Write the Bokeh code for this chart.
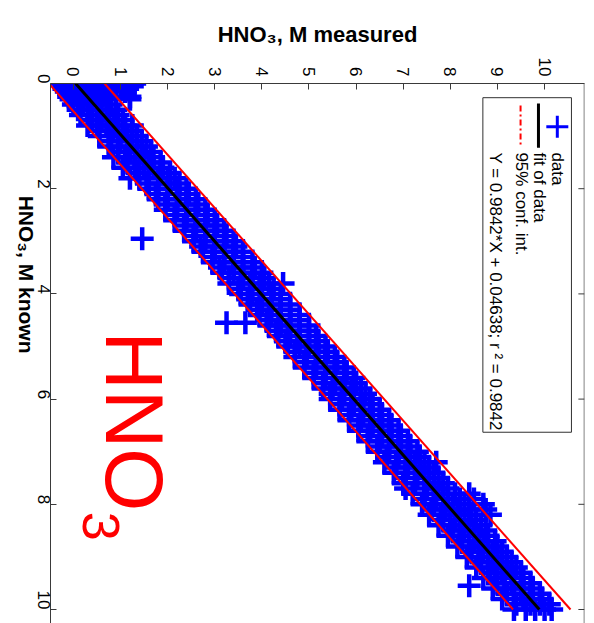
import math
from bokeh.plotting import figure
from bokeh.models import Range1d, FixedTicker, Span
from bokeh.embed import file_html
from bokeh.resources import INLINE
from bokeh.core.properties import value

FONT = "Liberation Sans"

# ---- data ----
known_levels = [0.0, 0.05, 0.1, 0.15, 0.2, 0.25, 0.3, 0.4, 0.5, 0.6, 0.7, 0.8, 0.9,
                1.0, 1.1, 1.2, 1.3, 1.4, 1.5, 1.6, 1.7, 1.8, 1.9,
                2.0, 2.1, 2.2, 2.3, 2.4, 2.5, 2.6, 2.7, 2.8, 2.9, 2.95,
                3.0, 3.1, 3.2, 3.3, 3.4, 3.5, 3.6, 3.7, 3.8, 3.9,
                4.0, 4.1, 4.2, 4.3, 4.4, 4.5, 4.55, 4.6, 4.7, 4.8, 4.9,
                5.0, 5.1, 5.2, 5.3, 5.4, 5.5, 5.6, 5.7, 5.8, 5.9,
                6.0, 6.1, 6.2, 6.3, 6.4, 6.5, 6.6, 6.7, 6.8, 6.9,
                7.0, 7.1, 7.2, 7.3, 7.4, 7.5, 7.6, 7.7, 7.8, 7.9,
                8.0, 8.1, 8.2, 8.3, 8.4, 8.5, 8.6, 8.7, 8.8, 8.9,
                9.0, 9.1, 9.2, 9.3, 9.4, 9.5, 9.55, 9.6, 9.7, 9.8, 9.9, 10.0]
measured_at_level = [
    [-0.25, -0.05, 0.1, 0.3, 0.5, 1.05, 1.2, 1.3],     # 0.0
    [-0.2, 0.0, 0.2, 0.4, 0.7, 0.9, 1.1, 1.25],        # 0.05
    [-0.2, 0.0, 0.2, 0.4, 0.6, 1.0, 1.15],             # 0.1
    [-0.15, 0.05, 0.25, 0.45, 0.65, 1.1],              # 0.15
    [-0.1, 0.1, 0.3, 0.5, 0.7],                        # 0.2
    [-0.1, 0.1, 0.3, 0.55, 0.75, 1.2],                 # 0.25
    [-0.05, 0.15, 0.35, 0.55, 0.75, 1.2],              # 0.3
    [0.0, 0.2, 0.4, 0.6, 0.8],                         # 0.4
    [0.1, 0.3, 0.5, 0.7, 0.9],                         # 0.5
    [0.15, 0.35, 0.55, 0.75, 0.95],                    # 0.6
    [0.4, 0.6, 0.85, 1.05],                            # 0.7
    [0.3, 0.5, 0.7, 0.9, 1.1, 1.25],                   # 0.8
    [0.55, 0.85, 1.05, 1.25],                          # 0.9
    [0.55, 0.75, 0.95, 1.15, 1.35],                    # 1.0
    [0.8, 1.0, 1.25, 1.45],                            # 1.1
    [0.75, 0.95, 1.15, 1.35, 1.55],                    # 1.2
    [0.95, 1.2, 1.45, 1.65],                           # 1.3
    [0.85, 1.1, 1.3, 1.5, 1.7],                        # 1.4
    [1.15, 1.4, 1.6, 1.85],                            # 1.5
    [1.05, 1.3, 1.5, 1.7, 1.9],                        # 1.6
    [1.35, 1.6, 1.85, 2.05],                           # 1.7
    [1.2, 1.4, 1.6, 1.8, 2.0, 2.15],                   # 1.8
    [1.55, 1.8, 2.05, 2.25],                           # 1.9
    [1.6, 1.8, 2.0, 2.2, 2.4],                         # 2.0
    [1.75, 2.0, 2.25, 2.45],                           # 2.1
    [1.8, 2.0, 2.2, 2.4, 2.6],                         # 2.2
    [1.95, 2.2, 2.4, 2.65],                            # 2.3
    [1.95, 2.2, 2.4, 2.6, 2.8],                        # 2.4
    [2.15, 2.4, 2.6, 2.85],                            # 2.5
    [2.15, 2.4, 2.6, 2.8, 3.0],                        # 2.6
    [2.35, 2.6, 2.8, 3.05],                            # 2.7
    [2.35, 2.6, 2.8, 3.0, 3.2],                        # 2.8
    [2.55, 2.8, 3.0, 3.25],                            # 2.9
    [1.46],                                            # 2.95
    [2.55, 2.8, 3.0, 3.2, 3.4],                        # 3.0
    [2.7, 3.0, 3.2, 3.45],                             # 3.1
    [2.75, 3.0, 3.2, 3.4, 3.6],                        # 3.2
    [2.95, 3.2, 3.4, 3.6],                             # 3.3
    [2.95, 3.2, 3.4, 3.6, 3.8],                        # 3.4
    [3.1, 3.4, 3.6, 3.85],                             # 3.5
    [3.15, 3.4, 3.6, 3.8, 4.0],                        # 3.6
    [3.3, 3.6, 3.8, 4.05],                             # 3.7
    [3.3, 3.55, 3.75, 3.95, 4.15, 4.45],               # 3.8
    [3.5, 3.75, 4.0, 4.25],                            # 3.9
    [3.55, 3.8, 4.0, 4.2, 4.4],                        # 4.0
    [3.7, 3.95, 4.2, 4.4],                             # 4.1
    [3.75, 4.0, 4.2, 4.4, 4.6],                        # 4.2
    [3.9, 4.15, 4.4, 4.6],                             # 4.3
    [3.95, 4.2, 4.4, 4.6, 4.8],                        # 4.4
    [4.1, 4.35, 4.6, 4.8],                             # 4.5
    [3.25, 3.65],                                      # 4.55
    [4.15, 4.4, 4.6, 4.8, 5.0],                        # 4.6
    [4.3, 4.55, 4.8, 5.0],                             # 4.7
    [4.35, 4.6, 4.8, 5.0, 5.15],                       # 4.8
    [4.5, 4.75, 5.0, 5.2],                             # 4.9
    [4.55, 4.8, 5.0, 5.2, 5.35],                       # 5.0
    [4.7, 4.95, 5.15, 5.4],                            # 5.1
    [4.7, 4.95, 5.15, 5.35, 5.55],                     # 5.2
    [4.9, 5.15, 5.35, 5.6],                            # 5.3
    [4.9, 5.15, 5.35, 5.55, 5.75],                     # 5.4
    [5.1, 5.35, 5.55, 5.8],                            # 5.5
    [5.1, 5.35, 5.55, 5.75, 5.95],                     # 5.6
    [5.3, 5.55, 5.75, 6.0],                            # 5.7
    [5.3, 5.5, 5.7, 5.9, 6.1],                         # 5.8
    [5.45, 5.75, 5.95, 6.2],                           # 5.9
    [5.45, 5.7, 5.9, 6.1, 6.3],                        # 6.0
    [5.65, 5.95, 6.15, 6.35],                          # 6.1
    [5.65, 5.9, 6.1, 6.3, 6.5],                        # 6.2
    [5.85, 6.15, 6.35, 6.55],                          # 6.3
    [5.85, 6.1, 6.3, 6.5, 6.7],                        # 6.4
    [6.05, 6.35, 6.55, 6.75],                          # 6.5
    [6.05, 6.3, 6.5, 6.7, 6.9],                        # 6.6
    [6.25, 6.55, 6.75, 6.95],                          # 6.7
    [6.25, 6.5, 6.7, 6.9, 7.1],                        # 6.8
    [6.45, 6.7, 6.95, 7.15],                           # 6.9
    [6.45, 6.7, 6.9, 7.1, 7.3],                        # 7.0
    [6.65, 6.9, 7.15, 7.35],                           # 7.1
    [6.6, 6.85, 7.05, 7.25, 7.45, 7.7],                # 7.2
    [6.85, 7.1, 7.35, 7.55],                           # 7.3
    [6.8, 7.05, 7.25, 7.45, 7.65],                     # 7.4
    [7.05, 7.3, 7.55, 7.75],                           # 7.5
    [7.0, 7.25, 7.45, 7.65, 7.85],                     # 7.6
    [7.05, 7.5, 7.75, 7.95],                           # 7.7
    [7.2, 7.45, 7.65, 7.85, 8.1, 8.4],                 # 7.8
    [7.45, 7.7, 7.95, 8.2, 8.5],                       # 7.9
    [7.4, 7.65, 7.85, 8.05, 8.3, 8.7],                 # 8.0
    [7.6, 7.9, 8.15, 8.4, 8.75],                       # 8.1
    [7.55, 7.8, 8.0, 8.2, 8.45, 8.85],                 # 8.2
    [7.85, 8.1, 8.3, 8.55],                            # 8.3
    [7.75, 8.0, 8.2, 8.4, 8.65],                       # 8.4
    [8.05, 8.3, 8.5, 8.75],                            # 8.5
    [7.95, 8.2, 8.4, 8.6, 8.8],                        # 8.6
    [8.25, 8.5, 8.7, 8.95],                            # 8.7
    [8.15, 8.4, 8.6, 8.8, 9.0],                        # 8.8
    [8.45, 8.7, 8.9, 9.1],                             # 8.9
    [8.35, 8.6, 8.8, 9.0, 9.2],                        # 9.0
    [8.65, 8.9, 9.1, 9.3],                             # 9.1
    [8.55, 8.8, 9.0, 9.2, 9.4],                        # 9.2
    [8.85, 9.1, 9.3, 9.5],                             # 9.3
    [8.7, 8.95, 9.15, 9.35, 9.55],                     # 9.4
    [9.0, 9.3, 9.5, 9.7],                              # 9.5
    [8.4],                                             # 9.55
    [8.9, 9.15, 9.35, 9.55, 9.75],                     # 9.6
    [9.2, 9.5, 9.7, 9.9],                              # 9.7
    [9.1, 9.35, 9.55, 9.75, 9.95],                     # 9.8
    [9.4, 9.7, 9.9, 10.1],                             # 9.9
    [9.35, 9.6, 9.8, 10.0, 10.15],                     # 10.0
]

fit_slope = 0.9842
fit_intercept = 0.04638
fit_known = [0.0, 10.0]
conf_known = [0.0, 10.0]
conf_lower = [-0.52, 9.33]
conf_upper = [0.66, 10.55]

measured_ticks = list(range(0, 11))
known_ticks = [0, 2, 4, 6, 8, 10]

legend_labels = ["data", "fit of data", "95% conf. int.",
                 "Y = 0.9842*X + 0.04638;  r \u00b2 = 0.9842"]

# ---- derived ----
pts_known, pts_measured = [], []
for k, ms in zip(known_levels, measured_at_level):
    for m in ms:
        pts_known.append(k)
        pts_measured.append(m)
fit_measured = [fit_slope * k + fit_intercept for k in fit_known]

X0, X1 = -0.486, 10.847
p = figure(width=594, height=623,
           x_range=Range1d(X0, X1), y_range=Range1d(10.266, 0),
           x_axis_location="above", toolbar_location=None, output_backend="svg",
           min_border_left=48, min_border_right=10, min_border_top=83,
           min_border_bottom=0)
p.outline_line_color = None
p.grid.visible = False
p.background_fill_color = "white"
p.border_fill_color = "white"

AX = "#3a3a3a"


def style(ax, ticks, size="17px"):
    ax.ticker = FixedTicker(ticks=ticks)
    ax.major_tick_in = 6
    ax.major_tick_out = 0
    ax.minor_tick_line_color = None
    ax.axis_line_color = AX
    ax.major_tick_line_color = AX
    ax.major_label_orientation = -math.pi / 2
    ax.major_label_text_font = FONT
    ax.major_label_text_font_size = size
    ax.major_label_text_color = "black"
    ax.major_label_standoff = 7


xa = p.xaxis[0]
style(xa, measured_ticks)
xa.axis_label = "HNO\u2083, M measured"
xa.axis_label_text_font = FONT
xa.axis_label_text_font_style = "bold"
xa.axis_label_text_font_size = "22px"
xa.axis_label_text_color = "black"
xa.axis_label_standoff = 8

ya = p.yaxis[0]
style(ya, known_ticks)
ya.axis_label = "HNO\u2083, M known"
ya.axis_label_text_font = FONT
ya.axis_label_text_font_style = "bold"
ya.axis_label_text_font_size = "21px"
ya.axis_label_text_color = "black"
ya.axis_label_standoff = 2
try:
    ya.axis_label_orientation = -math.pi / 2
except AttributeError:
    pass

# right frame edge with inward ticks
p.add_layout(Span(location=X1 - 0.005, dimension="height", line_color=AX, line_width=1))
p.segment(x0=[X1] * len(known_ticks), x1=[X1 - 0.13] * len(known_ticks),
          y0=known_ticks, y1=known_ticks, line_color=AX, line_width=1)

# data
p.scatter(pts_measured, pts_known, marker="cross", size=23, line_width=4.5,
          line_color="#0000ff")
# confidence lines
p.line(conf_lower, conf_known, line_color="#ff0000", line_width=2)
p.line(conf_upper, conf_known, line_color="#ff0000", line_width=2)
# fit
p.line(fit_measured, fit_known, line_color="black", line_width=3)

# legend (rotated like the figure)
p.quad(left=[8.69], right=[10.57], top=[0.27], bottom=[6.63],
       fill_color="white", line_color="#303030", line_width=1)
p.scatter([10.27], [0.82], marker="cross", size=22, line_width=3,
          line_color="#0000ff")
p.line([9.87, 9.87], [0.38, 1.22], line_color="black", line_width=3)
p.line([9.49, 9.49], [0.42, 1.18], line_color="#ff0000", line_width=2,
       line_dash="6 3 2 3")
p.text(x=[10.27, 9.89, 9.51, 8.96], y=[1.31, 1.31, 1.31, 1.31], text=legend_labels,
       angle=-math.pi / 2, text_font=value(FONT), text_font_size="17px",
       text_align="left", text_baseline="middle", text_color="black")

# big label
p.text(x=[1.29], y=[4.71], text=["HNO"], angle=-math.pi / 2,
       text_font=value(FONT), text_font_size="81px", text_align="left",
       text_baseline="alphabetic", text_color="#ff0000")
p.text(x=[0.58], y=[8.14], text=["3"], angle=-math.pi / 2,
       text_font=value(FONT), text_font_size="52px", text_align="left",
       text_baseline="alphabetic", text_color="#ff0000")

open("out.html", "w").write(file_html(p, INLINE))
